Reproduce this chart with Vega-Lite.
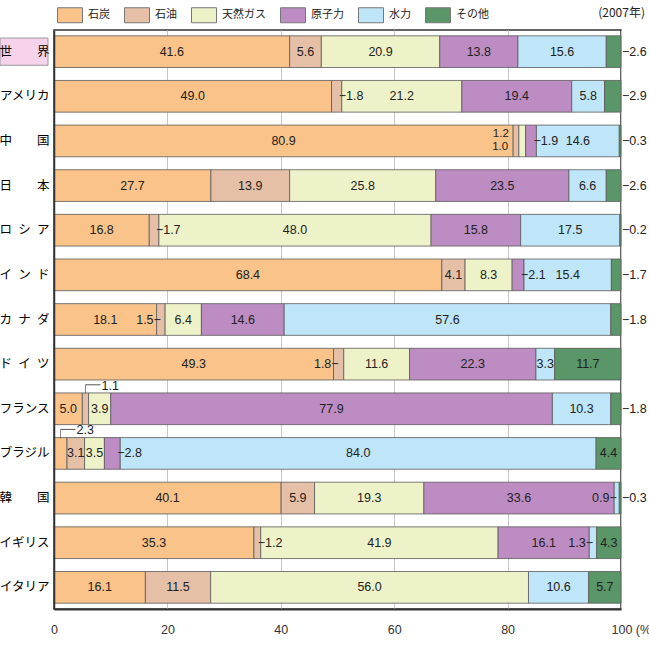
{
  "$schema": "https://vega.github.io/schema/vega-lite/v6.json",
  "width": 567,
  "height": 579,
  "autosize": {"type": "none"},
  "padding": {"left": 54, "top": 30, "right": 28, "bottom": 49},
  "background": "white",
  "title": {"text": "(2007年)", "anchor": "end", "orient": "top", "frame": "group", "dx": 24, "font": "Noto Sans CJK JP", "fontSize": 12, "fontWeight": "normal", "color": "#222", "offset": -18},
  "config": {"view": {"stroke": "#333", "strokeWidth": 1.5}},
  "data": {"values": [
    {"country": "世界", "source": "石炭", "k": 1, "value": 41.6, "lab": "in"},
    {"country": "世界", "source": "石油", "k": 2, "value": 5.6, "lab": "in"},
    {"country": "世界", "source": "天然ガス", "k": 3, "value": 20.9, "lab": "in"},
    {"country": "世界", "source": "原子力", "k": 4, "value": 13.8, "lab": "in"},
    {"country": "世界", "source": "水力", "k": 5, "value": 15.6, "lab": "in"},
    {"country": "世界", "source": "その他", "k": 6, "value": 2.6, "lab": "right"},
    {"country": "アメリカ", "source": "石炭", "k": 1, "value": 49.0, "lab": "in"},
    {"country": "アメリカ", "source": "石油", "k": 2, "value": 1.8, "lab": "after"},
    {"country": "アメリカ", "source": "天然ガス", "k": 3, "value": 21.2, "lab": "in"},
    {"country": "アメリカ", "source": "原子力", "k": 4, "value": 19.4, "lab": "in"},
    {"country": "アメリカ", "source": "水力", "k": 5, "value": 5.8, "lab": "in"},
    {"country": "アメリカ", "source": "その他", "k": 6, "value": 2.9, "lab": "right"},
    {"country": "中国", "source": "石炭", "k": 1, "value": 80.9, "lab": "in"},
    {"country": "中国", "source": "石油", "k": 2, "value": 1.0, "lab": "lbot"},
    {"country": "中国", "source": "天然ガス", "k": 3, "value": 1.2, "lab": "ltop"},
    {"country": "中国", "source": "原子力", "k": 4, "value": 1.9, "lab": "after"},
    {"country": "中国", "source": "水力", "k": 5, "value": 14.6, "lab": "in"},
    {"country": "中国", "source": "その他", "k": 6, "value": 0.3, "lab": "right"},
    {"country": "日本", "source": "石炭", "k": 1, "value": 27.7, "lab": "in"},
    {"country": "日本", "source": "石油", "k": 2, "value": 13.9, "lab": "in"},
    {"country": "日本", "source": "天然ガス", "k": 3, "value": 25.8, "lab": "in"},
    {"country": "日本", "source": "原子力", "k": 4, "value": 23.5, "lab": "in"},
    {"country": "日本", "source": "水力", "k": 5, "value": 6.6, "lab": "in"},
    {"country": "日本", "source": "その他", "k": 6, "value": 2.6, "lab": "right"},
    {"country": "ロシア", "source": "石炭", "k": 1, "value": 16.8, "lab": "in"},
    {"country": "ロシア", "source": "石油", "k": 2, "value": 1.7, "lab": "after"},
    {"country": "ロシア", "source": "天然ガス", "k": 3, "value": 48.0, "lab": "in"},
    {"country": "ロシア", "source": "原子力", "k": 4, "value": 15.8, "lab": "in"},
    {"country": "ロシア", "source": "水力", "k": 5, "value": 17.5, "lab": "in"},
    {"country": "ロシア", "source": "その他", "k": 6, "value": 0.2, "lab": "right"},
    {"country": "インド", "source": "石炭", "k": 1, "value": 68.4, "lab": "in"},
    {"country": "インド", "source": "石油", "k": 2, "value": 4.1, "lab": "in"},
    {"country": "インド", "source": "天然ガス", "k": 3, "value": 8.3, "lab": "in"},
    {"country": "インド", "source": "原子力", "k": 4, "value": 2.1, "lab": "after"},
    {"country": "インド", "source": "水力", "k": 5, "value": 15.4, "lab": "in"},
    {"country": "インド", "source": "その他", "k": 6, "value": 1.7, "lab": "right"},
    {"country": "カナダ", "source": "石炭", "k": 1, "value": 18.1, "lab": "in"},
    {"country": "カナダ", "source": "石油", "k": 2, "value": 1.5, "lab": "before"},
    {"country": "カナダ", "source": "天然ガス", "k": 3, "value": 6.4, "lab": "in"},
    {"country": "カナダ", "source": "原子力", "k": 4, "value": 14.6, "lab": "in"},
    {"country": "カナダ", "source": "水力", "k": 5, "value": 57.6, "lab": "in"},
    {"country": "カナダ", "source": "その他", "k": 6, "value": 1.8, "lab": "right"},
    {"country": "ドイツ", "source": "石炭", "k": 1, "value": 49.3, "lab": "in"},
    {"country": "ドイツ", "source": "石油", "k": 2, "value": 1.8, "lab": "before"},
    {"country": "ドイツ", "source": "天然ガス", "k": 3, "value": 11.6, "lab": "in"},
    {"country": "ドイツ", "source": "原子力", "k": 4, "value": 22.3, "lab": "in"},
    {"country": "ドイツ", "source": "水力", "k": 5, "value": 3.3, "lab": "in"},
    {"country": "ドイツ", "source": "その他", "k": 6, "value": 11.7, "lab": "in"},
    {"country": "フランス", "source": "石炭", "k": 1, "value": 5.0, "lab": "in"},
    {"country": "フランス", "source": "石油", "k": 2, "value": 1.1, "lab": "above"},
    {"country": "フランス", "source": "天然ガス", "k": 3, "value": 3.9, "lab": "in"},
    {"country": "フランス", "source": "原子力", "k": 4, "value": 77.9, "lab": "in"},
    {"country": "フランス", "source": "水力", "k": 5, "value": 10.3, "lab": "in"},
    {"country": "フランス", "source": "その他", "k": 6, "value": 1.8, "lab": "right"},
    {"country": "ブラジル", "source": "石炭", "k": 1, "value": 2.3, "lab": "above"},
    {"country": "ブラジル", "source": "石油", "k": 2, "value": 3.1, "lab": "in"},
    {"country": "ブラジル", "source": "天然ガス", "k": 3, "value": 3.5, "lab": "in"},
    {"country": "ブラジル", "source": "原子力", "k": 4, "value": 2.8, "lab": "after"},
    {"country": "ブラジル", "source": "水力", "k": 5, "value": 84.0, "lab": "in"},
    {"country": "ブラジル", "source": "その他", "k": 6, "value": 4.4, "lab": "in"},
    {"country": "韓国", "source": "石炭", "k": 1, "value": 40.1, "lab": "in"},
    {"country": "韓国", "source": "石油", "k": 2, "value": 5.9, "lab": "in"},
    {"country": "韓国", "source": "天然ガス", "k": 3, "value": 19.3, "lab": "in"},
    {"country": "韓国", "source": "原子力", "k": 4, "value": 33.6, "lab": "in"},
    {"country": "韓国", "source": "水力", "k": 5, "value": 0.9, "lab": "before"},
    {"country": "韓国", "source": "その他", "k": 6, "value": 0.3, "lab": "right"},
    {"country": "イギリス", "source": "石炭", "k": 1, "value": 35.3, "lab": "in"},
    {"country": "イギリス", "source": "石油", "k": 2, "value": 1.2, "lab": "after"},
    {"country": "イギリス", "source": "天然ガス", "k": 3, "value": 41.9, "lab": "in"},
    {"country": "イギリス", "source": "原子力", "k": 4, "value": 16.1, "lab": "in"},
    {"country": "イギリス", "source": "水力", "k": 5, "value": 1.3, "lab": "before"},
    {"country": "イギリス", "source": "その他", "k": 6, "value": 4.3, "lab": "in"},
    {"country": "イタリア", "source": "石炭", "k": 1, "value": 16.1, "lab": "in"},
    {"country": "イタリア", "source": "石油", "k": 2, "value": 11.5, "lab": "in"},
    {"country": "イタリア", "source": "天然ガス", "k": 3, "value": 56.0, "lab": "in"},
    {"country": "イタリア", "source": "水力", "k": 5, "value": 10.6, "lab": "in"},
    {"country": "イタリア", "source": "その他", "k": 6, "value": 5.7, "lab": "in"}
  ]},
  "transform": [
    {"stack": "value", "groupby": ["country"], "sort": [{"field": "k"}], "offset": "normalize", "as": ["x0", "x1"]},
    {"calculate": "(datum.x0 + datum.x1) / 2", "as": "mid"},
    {"calculate": "format(datum.value, '.1f')", "as": "t"}
  ],
  "encoding": {
    "y": {
      "field": "country", "type": "nominal",
      "sort": ["世界", "アメリカ", "中国", "日本", "ロシア", "インド", "カナダ", "ドイツ", "フランス", "ブラジル", "韓国", "イギリス", "イタリア"],
      "scale": {"paddingInner": 0.29, "paddingOuter": 0.13},
      "axis": {
        "title": null, "ticks": false, "domainColor": "#333", "domainWidth": 1.5,
        "labelFont": "Noto Sans CJK JP", "labelFontSize": 12.5, "labelColor": "#000", "labelPadding": 5, "zindex": 1,
        "labelExpr": "datum.value == '世界' ? '世　　界' : datum.value == '中国' ? '中　　国' : datum.value == '日本' ? '日　　本' : datum.value == '韓国' ? '韓　　国' : datum.value == 'ロシア' ? 'ロ\u2002シ\u2002ア' : datum.value == 'インド' ? 'イ\u2002ン\u2002ド' : datum.value == 'カナダ' ? 'カ\u2002ナ\u2002ダ' : datum.value == 'ドイツ' ? 'ド\u2002イ\u2002ツ' : datum.value"
      }
    }
  },
  "layer": [
    {
      "transform": [{"filter": "datum.country == '世界' && datum.k == 1"}],
      "mark": {"type": "rect", "fill": "#F6D3EA", "stroke": "#999", "strokeWidth": 1, "height": {"band": 0.86}},
      "encoding": {
        "x": {"datum": -0.0952, "type": "quantitative"},
        "x2": {"datum": -0.0106}
      }
    },
    {
      "mark": {"type": "bar", "stroke": "#5a5a5a", "strokeWidth": 0.8},
      "encoding": {
        "x": {
          "field": "x0", "type": "quantitative",
          "scale": {"domain": [0, 1], "nice": false, "zero": false},
          "axis": {
            "title": null, "values": [0, 0.2, 0.4, 0.6, 0.8, 1],
            "labelExpr": "datum.value == 1 ? '100 (%)' : format(datum.value * 100, 'd')",
            "ticks": false, "grid": true, "gridColor": "#c8c8c8", "gridWidth": 1,
            "domainColor": "#333", "domainWidth": 2,
            "labelFont": "Liberation Sans", "labelFontSize": 12.5, "labelColor": "#333",
            "labelPadding": 14, "labelBound": false, "labelOverlap": false, "labelFlush": false,
            "labelAlign": {"condition": {"test": "datum.value == 1", "value": "left"}, "value": "center"},
            "labelOffset": {"condition": {"test": "datum.value == 1", "value": -10}, "value": 0}
          }
        },
        "x2": {"field": "x1"},
        "color": {
          "field": "source", "type": "nominal",
          "scale": {"domain": ["石炭", "石油", "天然ガス", "原子力", "水力", "その他"], "range": ["#F9C38A", "#E6BFA7", "#EEF2C8", "#BC8CC2", "#BFE5F8", "#5A9668"]},
          "legend": {
            "orient": "none", "legendX": 3, "legendY": -28, "direction": "horizontal", "title": null,
            "symbolType": "M-1,-0.6H1V0.6H-1Z", "symbolSize": 625, "symbolStrokeColor": "#777", "symbolStrokeWidth": 1, "symbolOpacity": 1,
            "labelFont": "Noto Sans CJK JP", "labelFontSize": 11, "labelColor": "#222", "labelOffset": 5, "columnPadding": 12, "padding": 0
          }
        }
      }
    },
    {
      "transform": [{"filter": "datum.lab == 'in'"}],
      "mark": {"type": "text", "font": "Liberation Sans", "fontSize": 12.5, "color": "#222", "baseline": "middle", "align": "center"},
      "encoding": {"x": {"field": "mid", "type": "quantitative"}, "text": {"field": "t"}}
    },
    {
      "transform": [{"filter": "datum.lab == 'after'"}, {"calculate": "'−' + datum.t", "as": "tt"}],
      "mark": {"type": "text", "font": "Liberation Sans", "fontSize": 12.5, "color": "#222", "baseline": "middle", "align": "left", "dx": -3},
      "encoding": {"x": {"field": "x1", "type": "quantitative"}, "text": {"field": "tt"}}
    },
    {
      "transform": [{"filter": "datum.lab == 'right'"}, {"calculate": "'−' + datum.t", "as": "tt"}],
      "mark": {"type": "text", "font": "Liberation Sans", "fontSize": 12.5, "color": "#222", "baseline": "middle", "align": "left", "dx": 1},
      "encoding": {"x": {"field": "x1", "type": "quantitative"}, "text": {"field": "tt"}}
    },
    {
      "transform": [{"filter": "datum.lab == 'before'"}, {"calculate": "datum.t + '−'", "as": "tt"}],
      "mark": {"type": "text", "font": "Liberation Sans", "fontSize": 12.5, "color": "#222", "baseline": "middle", "align": "right", "dx": 0},
      "encoding": {"x": {"field": "mid", "type": "quantitative"}, "text": {"field": "tt"}}
    },
    {
      "transform": [{"filter": "datum.lab == 'above'"}],
      "mark": {"type": "text", "font": "Liberation Sans", "fontSize": 12.5, "color": "#222", "baseline": "middle", "align": "left", "dx": 16, "dy": -23},
      "encoding": {"x": {"field": "mid", "type": "quantitative"}, "text": {"field": "t"}}
    },
    {
      "transform": [{"filter": "datum.lab == 'above'"}],
      "mark": {"type": "rule", "color": "#555", "strokeWidth": 1, "yOffset": -24, "x2Offset": 15},
      "encoding": {"x": {"field": "mid", "type": "quantitative"}, "x2": {"field": "mid"}}
    },
    {
      "transform": [{"filter": "datum.lab == 'above'"}],
      "mark": {"type": "tick", "color": "#555", "orient": "vertical", "size": 9, "thickness": 1, "yOffset": -19.5},
      "encoding": {"x": {"field": "mid", "type": "quantitative"}}
    },
    {
      "transform": [{"filter": "datum.lab == 'ltop'"}],
      "mark": {"type": "text", "font": "Liberation Sans", "fontSize": 11.5, "color": "#222", "baseline": "middle", "align": "right", "dx": -10, "dy": -7},
      "encoding": {"x": {"field": "x0", "type": "quantitative"}, "text": {"field": "t"}}
    },
    {
      "transform": [{"filter": "datum.lab == 'lbot'"}],
      "mark": {"type": "text", "font": "Liberation Sans", "fontSize": 11.5, "color": "#222", "baseline": "middle", "align": "right", "dx": -5, "dy": 6},
      "encoding": {"x": {"field": "x0", "type": "quantitative"}, "text": {"field": "t"}}
    }
  ]
}
